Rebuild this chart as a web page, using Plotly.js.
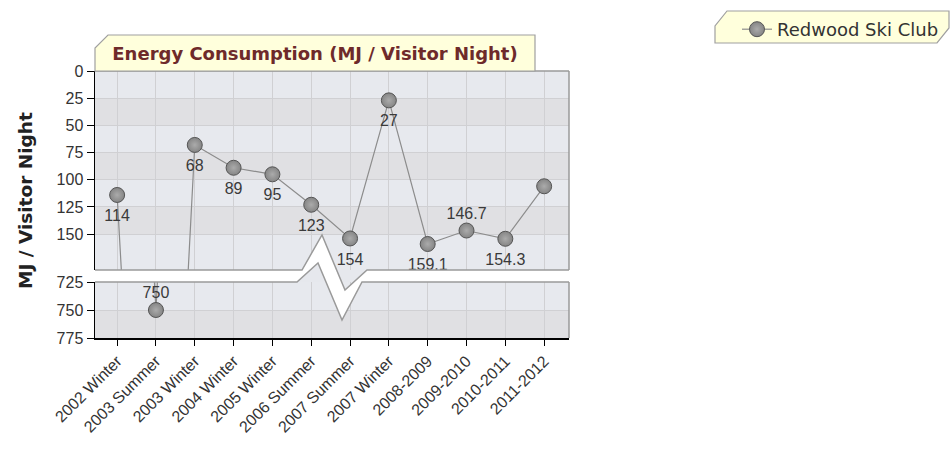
<!DOCTYPE html>
<html>
<head>
<meta charset="utf-8">
<script src="https://cdn.plot.ly/plotly-3.0.1.min.js"></script>
<style>
  html, body { margin: 0; padding: 0; background: #ffffff; }
  #chart { width: 950px; height: 455px; }
</style>
</head>
<body>
<div id="chart"></div>
<script>
// ---- data ----
const categories = ['2002 Winter', '2003 Summer', '2003 Winter', '2004 Winter', '2005 Winter',
  '2006 Summer', '2007 Summer', '2007 Winter', '2008-2009', '2009-2010', '2010-2011', '2011-2012'];
const values = [114, 750, 68, 89, 95, 123, 154, 27, 159.1, 146.7, 154.3, 106];
const valueLabels = ['114', '750', '68', '89', '95', '123', '154', '27', '159.1', '146.7', '154.3', ''];
const labelSide = ['bottom', 'top', 'bottom', 'bottom', 'bottom', 'bottom', 'bottom', 'bottom',
  'bottom', 'top', 'bottom', 'bottom'];
const upperTicks = [0, 25, 50, 75, 100, 125, 150];
const lowerTicks = [725, 750, 775];
const seriesName = 'Redwood Ski Club';
const chartTitle = 'Energy Consumption (MJ / Visitor Night)';
const yTitle = 'MJ / Visitor Night';

// ---- axis ranges of the broken axis ----
const upperRange = [183, 0];
const lowerRange = [775, 725];

// ---- geometry helpers (pixel -> paper) ----
const L = 95, R = 569, T = 71, B = 338;
const W = R - L, H = B - T;
const px = x => (x - L) / W;
const py = y => (B - y) / H;
const path = pts => 'M' + pts.map(p => px(p[0]).toFixed(5) + ',' + py(p[1]).toFixed(5)).join(' L');

const upperDomain = [py(270), 1];
const lowerDomain = [0, py(282)];

const markerStyle = {
  size: 15, color: '#858585',
  gradient: { type: 'radial', color: '#ababab' },
  line: { color: '#555555', width: 1 }
};
const lineStyle = { color: '#8c8c8c', width: 1.2 };
const labelFont = { family: 'Liberation Sans, Arial, sans-serif', size: 16, color: '#3a3a3a' };
const textPos = labelSide.map(s => s + ' center');
const textGap = labelSide.map(s => (s === 'top' ? 11 : 21));

const inUpper = v => v >= Math.min(...upperRange) && v <= Math.max(...upperRange);
const inLower = v => v >= Math.min(...lowerRange) && v <= Math.max(...lowerRange);

function seriesTrace(yaxis, legend) {
  return {
    x: categories, y: values, mode: 'lines+markers', name: seriesName,
    xaxis: 'x', yaxis: yaxis, marker: markerStyle, line: lineStyle,
    showlegend: legend, cliponaxis: true, hoverinfo: 'x+y'
  };
}
function labelTrace(yaxis, keep) {
  return {
    x: categories, y: values, mode: 'markers+text', xaxis: 'x', yaxis: yaxis,
    text: valueLabels.map((t, i) => (keep(values[i]) ? t : '')),
    textposition: textPos, textfont: labelFont,
    marker: { size: textGap, color: 'rgba(0,0,0,0)', line: { width: 0 } },
    showlegend: false, cliponaxis: true, hoverinfo: 'skip'
  };
}

const traces = [
  seriesTrace('y', true), seriesTrace('y2', false),
  labelTrace('y', inUpper), labelTrace('y2', inLower)
];

const tickFont = { family: 'Liberation Sans, Arial, sans-serif', size: 16, color: '#333333' };
const gridColor = '#d0d0d3';

// alternating row bands
const shapes = [];
const bandColor = '#e0e0e3';
for (let i = 1; i < upperTicks.length; i += 2) {
  shapes.push({ type: 'rect', xref: 'x domain', yref: 'y', x0: 0, x1: 1,
    y0: upperTicks[i], y1: upperTicks[i] + 25, fillcolor: bandColor, line: { width: 0 }, layer: 'below' });
}
shapes.push({ type: 'rect', xref: 'x domain', yref: 'y2', x0: 0, x1: 1,
  y0: lowerTicks[1], y1: lowerTicks[2], fillcolor: bandColor, line: { width: 0 }, layer: 'below' });

// grey frame (top, right, inner edges)
const frame = { color: '#9a9a9a', width: 1.5 };
[[[L, T], [R, T]], [[R, T], [R, 270]], [[R, 282], [R, B]]].forEach(seg => {
  shapes.push({ type: 'path', xref: 'paper', yref: 'paper', path: path(seg), line: frame, layer: 'above' });
});

// axis break (zig-zag band)
const topEdge = [[L, 270], [302, 270], [322, 235], [345, 290], [367, 270], [R, 270]];
const botEdge = [[L, 282], [297, 282], [318, 263], [342, 320], [362, 282], [R, 282]];
shapes.push({ type: 'path', xref: 'paper', yref: 'paper',
  path: path([[296, 270], [370, 270], [370, 282], [296, 282]]) + ' Z',
  fillcolor: '#e6e8ed', line: { width: 0 }, layer: 'above' });
shapes.push({ type: 'path', xref: 'paper', yref: 'paper',
  path: path(topEdge.concat(botEdge.slice().reverse())) + ' Z',
  fillcolor: '#ffffff', line: { width: 0 }, layer: 'above' });
shapes.push({ type: 'path', xref: 'paper', yref: 'paper', path: path(topEdge), line: frame, layer: 'above' });
shapes.push({ type: 'path', xref: 'paper', yref: 'paper', path: path(botEdge), line: frame, layer: 'above' });

// title tab
shapes.push({ type: 'path', xref: 'paper', yref: 'paper',
  path: path([[L, T], [L, 48], [108, 35], [535, 35], [535, T]]) + ' Z',
  fillcolor: '#ffffdc', line: { color: '#a0a0a0', width: 1.2 }, layer: 'above' });
// legend tab
shapes.push({ type: 'path', xref: 'paper', yref: 'paper',
  path: path([[715, 43], [715, 26], [727, 11], [949, 11], [949, 28], [937, 43]]) + ' Z',
  fillcolor: '#ffffdc', line: { color: '#a0a0a0', width: 1.2 }, layer: 'below' });

const layout = {
  width: 950, height: 455,
  margin: { l: L, r: 950 - R, t: T, b: 455 - B, pad: 0, autoexpand: false },
  paper_bgcolor: '#ffffff', plot_bgcolor: '#e7e9ee',
  showlegend: true,
  title: { text: chartTitle, xref: 'paper', x: px(315), xanchor: 'center',
    yref: 'container', y: 1 - 54 / 455, yanchor: 'middle', automargin: false,
    font: { family: 'DejaVu Sans, sans-serif', size: 18, color: '#6e2a2a', weight: 'bold' } },
  xaxis: {
    type: 'category', anchor: 'y2', domain: [0, 1], range: [-0.57, 11.64],
    tickangle: -45, ticks: 'outside', ticklen: 6, tickcolor: '#000', tickwidth: 1,
    showline: true, linecolor: '#000', linewidth: 1.5, showgrid: true, gridcolor: gridColor,
    tickfont: tickFont, zeroline: false, fixedrange: true, automargin: false
  },
  yaxis: {
    domain: upperDomain, anchor: 'x', range: upperRange, tickvals: upperTicks,
    ticktext: upperTicks.map(String), automargin: false,
    ticks: 'outside', ticklen: 7, tickcolor: '#000', showline: true, linecolor: '#000', linewidth: 1.5,
    showgrid: true, gridcolor: gridColor, zeroline: false, tickfont: tickFont
  },
  yaxis2: {
    domain: lowerDomain, anchor: 'x', range: lowerRange, tickvals: lowerTicks,
    ticktext: lowerTicks.map(String), automargin: false,
    ticks: 'outside', ticklen: 7, tickcolor: '#000', showline: true, linecolor: '#000', linewidth: 1.5,
    showgrid: true, gridcolor: gridColor, zeroline: false, tickfont: tickFont
  },
  legend: {
    x: px(737), xanchor: 'left', y: py(11), yanchor: 'top',
    bgcolor: 'rgba(0,0,0,0)', borderwidth: 0,
    font: { family: 'DejaVu Sans, sans-serif', size: 18, color: '#333' }
  },
  annotations: [{
    text: yTitle, textangle: -90, xref: 'paper', yref: 'paper',
    x: px(25), y: py(201), xanchor: 'center', yanchor: 'middle', showarrow: false,
    font: { family: 'DejaVu Sans, sans-serif', size: 18.5, color: '#222', weight: 'bold' }
  }],
  shapes: shapes
};

Plotly.newPlot('chart', traces, layout, { displayModeBar: false, staticPlot: true });
</script>
</body>
</html>
